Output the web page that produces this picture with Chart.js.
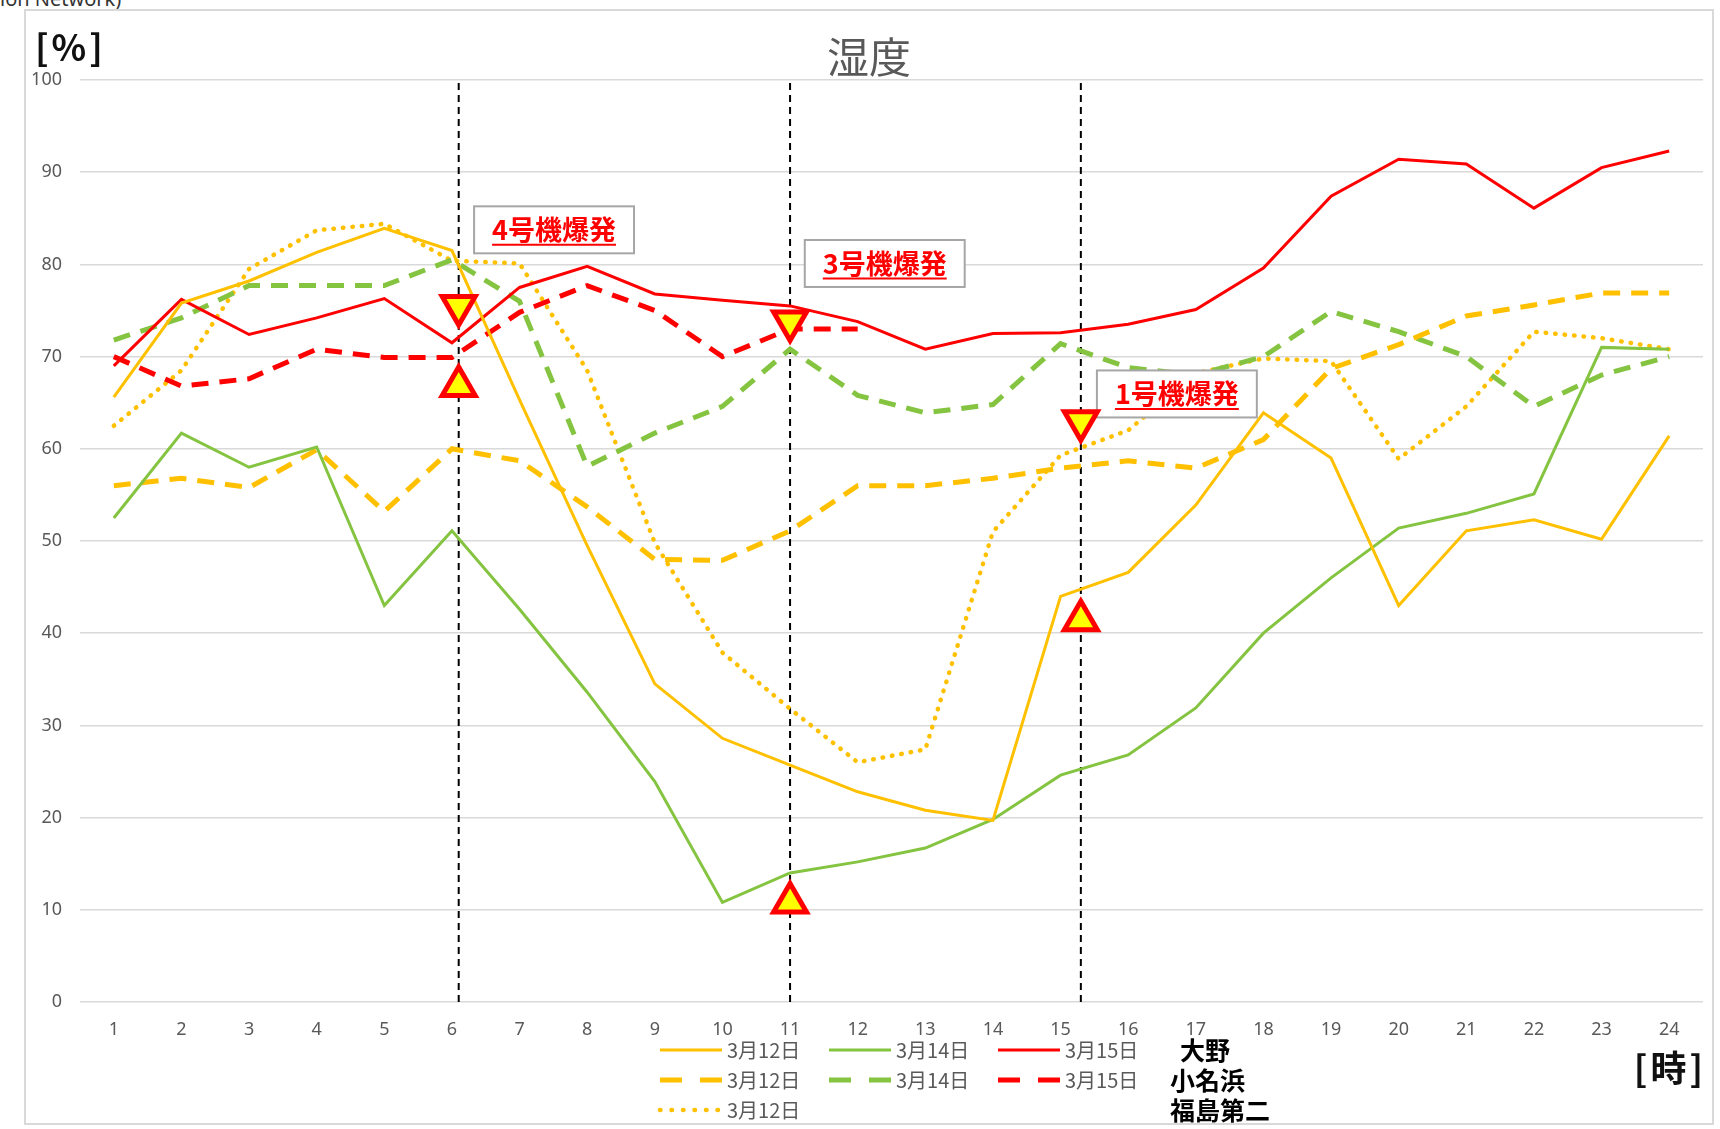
<!DOCTYPE html>
<html lang="ja">
<head>
<meta charset="utf-8">
<title>湿度</title>
<script src="https://cdn.jsdelivr.net/npm/chart.js@4.4.1/dist/chart.umd.min.js"></script>
<style>
  html, body { margin: 0; padding: 0; background: #fff; }
  #wrap { position: relative; width: 1720px; height: 1129px; overflow: hidden; }
  #frame { position: absolute; left: 24px; top: 9px; width: 1690px; height: 1116px; border: 2px solid #d9d9d9; box-sizing: border-box; }
  #cut { position: absolute; left: 0; top: -15px; font: 20px "Noto Sans", sans-serif; color: #333; }
  canvas { position: absolute; left: 0; top: 0; }
</style>
</head>
<body>
<div id="wrap">
  <div id="cut">ion Network)</div>
  <div id="frame"></div>
  <canvas id="humidity-chart" width="1720" height="1129"></canvas>
</div>
<script>
const hours = ['1', '2', '3', '4', '5', '6', '7', '8', '9', '10', '11', '12',
  '13', '14', '15', '16', '17', '18', '19', '20', '21', '22', '23', '24']

// 大野
const oono_0312 = [65.6, 75.8, 78.2, 81.3, 83.9, 81.5, 65.3, 49.5, 34.5, 28.6, 25.7, 22.8, 20.8, 19.7, 44, 46.6, 53.9, 63.9, 59, 43, 51.1, 52.3, 50.2, 61.4]
const oono_0314 = [52.5, 61.7, 58, 60.2, 43, 51.1, 42.6, 33.6, 23.9, 10.8, 14, 15.2, 16.7, 19.8, 24.6, 26.8, 31.9, 40, 46, 51.4, 53, 55.1, 71, 70.8]
const oono_0315 = [69, 76.2, 72.4, 74.2, 76.3, 71.5, 77.5, 79.8, 76.8, 76.1, 75.5, 73.8, 70.8, 72.5, 72.6, 73.5, 75.1, 79.6, 87.4, 91.4, 90.9, 86.1, 90.5, 92.3]
// 小名浜
const onahama_0312 = [56, 56.8, 55.8, 59.9, 53.2, 60, 58.7, 53.7, 48, 47.9, 51.1, 56, 56, 56.8, 57.9, 58.7, 57.9, 61, 68.7, 71.3, 74.4, 75.6, 76.9, 76.9]
const onahama_0314 = [71.8, 74.2, 77.7, 77.7, 77.7, 80.5, 76, 58.1, 61.7, 64.6, 70.8, 65.8, 63.9, 64.8, 71.4, 68.8, 68, 70, 74.9, 72.7, 70, 64.6, 68, 70]
const onahama_0315 = [70, 66.8, 67.6, 70.8, 69.9, 69.9, 74.8, 77.7, 75, 70, 73, 73, null, null, null, null, null, null, null, null, null, null, null, null]
// 福島第二
const fukuni_0312 = [62.5, 68.5, 79.5, 83.7, 84.4, 80.4, 80.1, 68.5, 49.8, 37.9, 31.8, 26, 27.4, 51, 59.3, 62, 68.2, 69.8, 69.5, 58.9, 64.6, 72.7, 72, 70.8]

const stations = ['大野', '小名浜', '福島第二']
const dates = ['3月12日', '3月14日', '3月15日']

// explosions
const eventHours = [6.1, 11, 15.3]
const eventLabels = ['4号機爆発', '3号機爆発', '1号機爆発']
const downMarks = [75.5, 73.8, 63]
const upMarks = [66.8, 10.8, 41.4]
const labelAnchors = [[7.51, 83.75], [12.4, 80.1], [16.72, 65.95]]

const dateColors = ['#FFC000', '#84C441', '#FF0000']
const lineStyles = [
  { borderWidth: 3, borderDash: [], legendDash: [] },
  { borderWidth: 5, borderDash: [17, 11], legendDash: [22, 18] },
  { borderWidth: 4.5, borderDash: [0.5, 9], legendDash: [0.5, 11], borderCapStyle: 'round' }
]

const series = [
  { data: oono_0312, station: 0, date: 0, col: 0 },
  { data: oono_0314, station: 0, date: 1, col: 1 },
  { data: oono_0315, station: 0, date: 2, col: 2 },
  { data: onahama_0312, station: 1, date: 0, col: 0 },
  { data: onahama_0314, station: 1, date: 1, col: 1 },
  { data: onahama_0315, station: 1, date: 2, col: 2 },
  { data: fukuni_0312, station: 2, date: 0, col: 0 }
]

const jpFont = '"Noto Sans CJK JP", "Noto Sans", sans-serif'
const tickFont = { size: 18, family: '"Noto Sans", sans-serif' }

const lineSets = series.map(s => {
  const st = lineStyles[s.station]
  return {
    label: stations[s.station] + ' ' + dates[s.date],
    data: s.data,
    borderColor: dateColors[s.date],
    backgroundColor: dateColors[s.date],
    borderWidth: st.borderWidth,
    borderDash: st.borderDash,
    borderCapStyle: st.borderCapStyle || 'butt',
    pointRadius: 0,
    tension: 0,
    spanGaps: false,
    order: 1,
    legendRow: s.station,
    legendCol: s.col,
    legendDash: st.legendDash
  }
})

const eventLines = eventHours.map(h => ({
  label: 'event ' + h,
  data: [{ x: h, y: 0 }, { x: h, y: 100 }],
  xAxisID: 'xv',
  borderColor: '#000',
  borderWidth: 2,
  borderDash: [7, 5],
  pointRadius: 0,
  order: 3
}))

const markSets = [
  { marks: downMarks, rotation: 180 },
  { marks: upMarks, rotation: 0 }
].map(m => ({
  label: 'marks',
  isMark: true,
  data: eventHours.map((h, i) => ({ x: h, y: m.marks[i] })),
  xAxisID: 'xv',
  showLine: false,
  pointStyle: 'triangle',
  pointRotation: m.rotation,
  pointRadius: 19,
  pointBorderWidth: 5,
  pointBorderColor: '#FF0000',
  pointBackgroundColor: '#FFFF00',
  order: 0
}))

const drawBoxes = (chart) => {
  const ctx = chart.ctx
  const xs = chart.scales.xv
  const ys = chart.scales.y
  ctx.save()
  ctx.font = 'bold 27px ' + jpFont
  eventLabels.forEach((txt, i) => {
    const cx = xs.getPixelForValue(labelAnchors[i][0])
    const cy = ys.getPixelForValue(labelAnchors[i][1])
    const tw = ctx.measureText(txt).width
    const w = tw + 36
    const h = 47
    ctx.fillStyle = '#fff'
    ctx.fillRect(cx - w / 2, cy - h / 2, w, h)
    ctx.strokeStyle = '#a6a6a6'
    ctx.lineWidth = 2
    ctx.strokeRect(cx - w / 2, cy - h / 2, w, h)
    ctx.fillStyle = '#FF0000'
    ctx.textAlign = 'center'
    ctx.textBaseline = 'middle'
    ctx.fillText(txt, cx, cy)
    ctx.strokeStyle = '#FF0000'
    ctx.beginPath()
    ctx.moveTo(cx - tw / 2, cy + 15)
    ctx.lineTo(cx + tw / 2, cy + 15)
    ctx.stroke()
  })
  ctx.restore()
}

const drawLegend = (chart) => {
  const ctx = chart.ctx
  const colX = [660, 829, 998]
  const rowY = [1050, 1080, 1110]
  ctx.save()
  chart.data.datasets.forEach(ds => {
    if (ds.legendRow === undefined) return
    const x = colX[ds.legendCol]
    const y = rowY[ds.legendRow]
    ctx.strokeStyle = ds.borderColor
    ctx.lineWidth = ds.borderWidth
    ctx.lineCap = ds.borderCapStyle
    ctx.setLineDash(ds.legendDash)
    ctx.beginPath()
    ctx.moveTo(x, y)
    ctx.lineTo(x + 62, y)
    ctx.stroke()
    ctx.setLineDash([])
    ctx.fillStyle = '#595959'
    ctx.font = '20px ' + jpFont
    ctx.textAlign = 'left'
    ctx.textBaseline = 'middle'
    ctx.fillText(ds.label.split(' ')[1], x + 67, y)
  })
  ctx.fillStyle = '#000'
  ctx.font = 'bold 25px ' + jpFont
  ctx.textAlign = 'left'
  ctx.textBaseline = 'middle'
  stations.forEach((name, i) => {
    ctx.fillText(name, i === 0 ? 1180 : 1170, rowY[i])
  })
  ctx.restore()
}

const drawTexts = (chart) => {
  const ctx = chart.ctx
  ctx.save()
  ctx.fillStyle = '#595959'
  ctx.font = '42px ' + jpFont
  ctx.textAlign = 'center'
  ctx.textBaseline = 'middle'
  ctx.fillText('湿度', 869, 57)
  ctx.fillStyle = '#111'
  ctx.font = 'bold 36px ' + jpFont
  ctx.letterSpacing = '3px'
  ctx.textAlign = 'left'
  ctx.fillText('[%]', 35, 47)
  ctx.textAlign = 'right'
  ctx.fillText('[時]', 1706, 1068)
  ctx.restore()
}

const overlay = {
  id: 'overlay',
  beforeDatasetsDraw(chart) {
    chart.$boxesDrawn = false
  },
  beforeDatasetDraw(chart, args) {
    const ds = chart.data.datasets[args.index]
    if (ds.isMark && !chart.$boxesDrawn) {
      drawBoxes(chart)
      chart.$boxesDrawn = true
    }
  },
  afterDraw(chart) {
    drawTexts(chart)
    drawLegend(chart)
  }
}

const ctx = document.getElementById('humidity-chart')
new Chart(ctx, {
  type: 'line',
  data: {
    labels: hours,
    datasets: [...markSets, ...lineSets, ...eventLines]
  },
  plugins: [overlay],
  options: {
    responsive: false,
    animation: false,
    layout: { autoPadding: false, padding: { top: 80, right: 17, left: 0, bottom: 0 } },
    plugins: {
      legend: { display: false },
      tooltip: { enabled: false },
      title: { display: false }
    },
    scales: {
      x: {
        type: 'category',
        offset: true,
        grid: { display: false, drawTicks: false },
        border: { display: false },
        ticks: { color: '#595959', font: tickFont, padding: 17, maxRotation: 0, autoSkip: false },
        afterFit: (scale) => { scale.height = 127 }
      },
      xv: { type: 'linear', min: 0.5, max: 24.5, display: false },
      y: {
        min: 0,
        max: 100,
        ticks: { stepSize: 10, color: '#595959', font: tickFont, padding: 18 },
        grid: { color: '#d9d9d9', lineWidth: 1.5, drawTicks: false },
        border: { display: false },
        afterFit: (scale) => { scale.width = 80 }
      }
    }
  }
})
</script>
</body>
</html>
